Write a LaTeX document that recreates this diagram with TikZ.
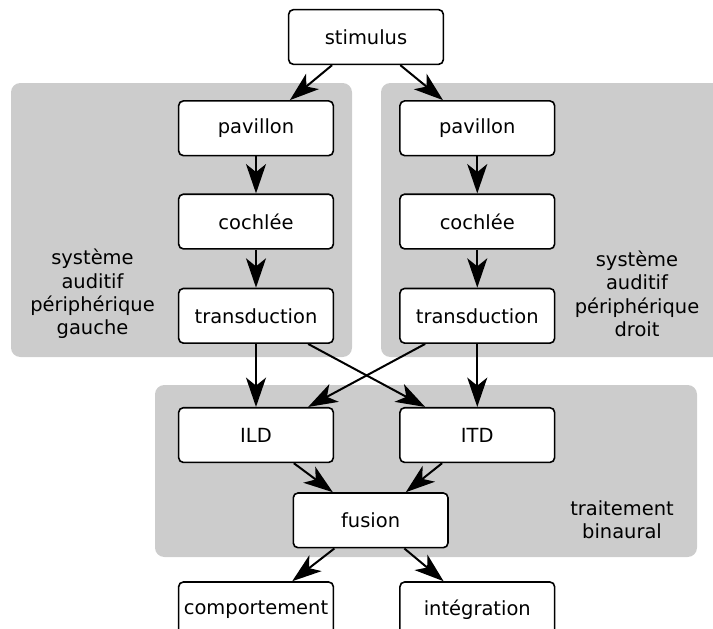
\documentclass[tikz,border=0pt]{standalone}
\usepackage{fontspec}
\setmainfont{DejaVu Sans}
\usetikzlibrary{positioning,calc,arrows.meta}

\definecolor{zonegray}{HTML}{CCCCCC}

\tikzset{
  block/.style={draw, line width=1.2pt, rounded corners=3.5pt, fill=white,
    minimum width=116pt, minimum height=41pt, inner sep=2pt},
  zone/.style={fill=zonegray, rounded corners=7pt},
  zonelabel/.style={align=center},
  flow/.style={line width=1.5pt, -{Stealth[length=22pt,width=15pt,inset=6pt]}},
}

\begin{document}
\begin{tikzpicture}[x=0.75pt, y=-0.75pt,
  font=\fontsize{14.6pt}{17.5pt}\selectfont]
 \useasboundingbox (0,0) rectangle (713,628);
 \clip (0,0) rectangle (713,628);
 % zones
 \fill[zone] (11,83) rectangle (352,357);
 \fill[zone] (381,83) rectangle (722,357);
 \fill[zone] (155,385) rectangle (697,557);

 \node[block] (stimulus) at (366,37) {stimulus};
 \node[block, below=26.25pt of stimulus, xshift=-82.5pt] (lpav) {pavillon};
 \node[block, right=48.75pt of lpav] (rpav) {pavillon};
 \node[block, below=27.75pt of lpav] (lcoch) {cochlée};
 \node[block, below=27.75pt of rpav] (rcoch) {cochlée};
 \node[block, below=28.5pt of lcoch] (ltrans) {transduction};
 \node[block, below=28.5pt of rcoch] (rtrans) {transduction};
 \node[block, below=47.25pt of ltrans] (ild) {ILD};
 \node[block, below=47.25pt of rtrans] (itd) {ITD};
 \node[block, anchor=north, xshift=3pt] (fusion)
   at ($(ild.south)!0.5!(itd.south)+(0,29)$) {fusion};
 \node[block, below=88.5pt of ild] (comport) {comportement};
 \node[block, below=88.5pt of itd] (integ) {intégration};

 \node[zonelabel] (lgauche) at (92.5,294) {système\\auditif\\périphérique\\gauche};
 \node[zonelabel] (ldroit) at (637,294) {système\\auditif\\périphérique\\droit};
 \node[zonelabel] (lbin) at (622,520) {traitement\\binaural};

 \draw[flow] (stimulus) -- (lpav);
 \draw[flow] (stimulus) -- (rpav);
 \draw[flow] (lpav) -- (lcoch);
 \draw[flow] (lcoch) -- (ltrans);
 \draw[flow] (rpav) -- (rcoch);
 \draw[flow] (rcoch) -- (rtrans);
 \draw[flow] (ltrans) -- (ild);
 \draw[flow] (ltrans) -- (itd);
 \draw[flow] (rtrans) -- (ild);
 \draw[flow] (rtrans) -- (itd);
 \draw[flow] (ild) -- (fusion);
 \draw[flow] (itd) -- (fusion);
 \draw[flow] (fusion) -- (comport);
 \draw[flow] (fusion) -- (integ);
\end{tikzpicture}
\end{document}
